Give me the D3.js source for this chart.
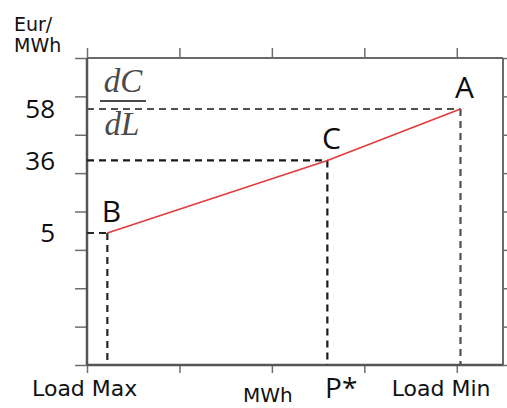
<!DOCTYPE html>
<html>
<head>
<meta charset="utf-8">
<script src="https://cdn.jsdelivr.net/npm/d3@7"></script>
<style>
  html, body { margin: 0; padding: 0; background: #fff; }
  svg { display: block; }
</style>
</head>
<body>
<svg id="chart" width="507" height="408"></svg>
<script>
// Marginal cost curve: operating points along the load axis
const pointNames = ["B", "C", "A"];
const loadPos    = [0.22, 2.6, 4.04];          // position on the MWh axis (tick units)
const costEur    = [5, 36, 58];                // Eur/MWh
const loadLabels = ["Load Max", "P*", "Load Min"];

// Unlabelled tick marks around the frame
const xTickIdx = [0, 1, 2, 3, 4];
const yTickIdx = [0, 1, 2, 3, 4, 5, 6, 7, 8];

const svg = d3.select("#chart");
const L = 87, R = 503, T = 58, B = 365;

const x = d3.scaleLinear().domain([0, 4.5]).range([L, R]);
const y = d3.scaleLinear().domain([5, 58]).range([233, 109]);
const yTick = d3.scaleLinear().domain([0, 8]).range([B, T]);

const tickColor = "#6e6e6e";
function styleAxis(g) {
  g.select(".domain").remove();
  g.selectAll(".tick line").attr("stroke", tickColor).attr("stroke-width", 1.5);
}

// frame ticks
svg.append("g").attr("transform", `translate(${L},0)`)
  .call(d3.axisLeft(yTick).tickValues(yTickIdx).tickSize(12).tickFormat(""))
  .call(styleAxis);
svg.append("g").attr("transform", `translate(${R},0)`)
  .call(d3.axisRight(yTick).tickValues(yTickIdx).tickSize(8).tickFormat(""))
  .call(styleAxis);
svg.append("g").attr("transform", `translate(0,${B})`)
  .call(d3.axisBottom(x).tickValues(xTickIdx).tickSize(8).tickFormat(""))
  .call(styleAxis);
svg.append("g").attr("transform", `translate(0,${T})`)
  .call(d3.axisTop(x).tickValues(xTickIdx).tickSize(10).tickFormat(""))
  .call(styleAxis);

// frame
svg.append("line").attr("x1", L).attr("x2", R).attr("y1", T).attr("y2", T)
  .attr("stroke", "#6a6a6a").attr("stroke-width", 2);
svg.append("line").attr("x1", R).attr("x2", R).attr("y1", T).attr("y2", B)
  .attr("stroke", "#6a6a6a").attr("stroke-width", 2);
svg.append("line").attr("x1", L).attr("x2", R).attr("y1", B).attr("y2", B)
  .attr("stroke", "#555").attr("stroke-width", 2.5);
svg.append("line").attr("x1", L).attr("x2", L).attr("y1", T).attr("y2", B)
  .attr("stroke", "#555").attr("stroke-width", 2.5);

// guide lines from each point to both axes
const pts = pointNames.map((n, i) => ({ name: n, load: loadPos[i], cost: costEur[i], label: loadLabels[i] }));
const guideColor = { A: "#505050", B: "#262626", C: "#1a1a1a" };

const guides = svg.append("g").attr("fill", "none").attr("stroke-width", 2.2);
pts.forEach(p => {
  guides.append("line")
    .attr("x1", L).attr("x2", x(p.load))
    .attr("y1", y(p.cost)).attr("y2", y(p.cost))
    .attr("stroke", guideColor[p.name])
    .attr("stroke-dasharray", "7,5");
  guides.append("line")
    .attr("x1", x(p.load)).attr("x2", x(p.load))
    .attr("y1", y(p.cost)).attr("y2", B)
    .attr("stroke", guideColor[p.name])
    .attr("stroke-dasharray", "7,5");
});

// marginal cost line
svg.append("path")
  .datum(pts)
  .attr("fill", "none")
  .attr("stroke", "#e23b3b")
  .attr("stroke-width", 1.7)
  .attr("d", d3.line().x(d => x(d.load)).y(d => y(d.cost)));

// point letters
svg.append("g").selectAll("text").data(pts).join("text")
  .attr("x", d => x(d.load) + 4)
  .attr("y", d => y(d.cost) - 11)
  .attr("text-anchor", "middle")
  .attr("font-family", "'Open Sans', sans-serif")
  .attr("font-size", 30)
  .attr("fill", "#0d0d0d")
  .text(d => d.name);

// cost values on the vertical axis
svg.append("g").selectAll("text").data(pts).join("text")
  .attr("x", 55)
  .attr("y", d => y(d.cost))
  .attr("dy", "0.36em")
  .attr("text-anchor", "end")
  .attr("font-family", "'Open Sans', sans-serif")
  .attr("font-size", 26)
  .attr("fill", "#0d0d0d")
  .text(d => d3.format("d")(d.cost));

// load labels under the horizontal axis
svg.append("g").selectAll("text").data(pts).join("text")
  .attr("x", d => x(d.load) + 30)
  .attr("y", d => d.name === "C" ? 398 : 396)
  .attr("text-anchor", "end")
  .attr("font-family", d => d.name === "C" ? "'Open Sans', sans-serif" : "'DejaVu Sans', sans-serif")
  .attr("font-size", d => d.name === "C" ? 28 : 22)
  .attr("fill", "#111")
  .text(d => d.label);

// axis titles
svg.append("text")
  .attr("x", x(2) - 4).attr("y", 402)
  .attr("text-anchor", "middle")
  .attr("font-family", "'DejaVu Sans', sans-serif")
  .attr("font-size", 20)
  .attr("fill", "#111")
  .text("MWh");

const yTitle = svg.append("text")
  .attr("font-family", "'DejaVu Sans', sans-serif")
  .attr("font-size", 19)
  .attr("fill", "#111");
yTitle.append("tspan").attr("x", 14).attr("y", 31).text("Eur/");
yTitle.append("tspan").attr("x", 14).attr("y", 52).text("MWh");

// dC/dL fraction
const frac = svg.append("g")
  .attr("font-family", "'Liberation Serif', serif")
  .attr("font-style", "italic")
  .attr("font-size", 33)
  .attr("fill", "#4a4a4a")
  .attr("text-anchor", "middle");
frac.append("text").attr("x", 123).attr("y", 92).text("dC");
frac.append("line").attr("x1", 100).attr("x2", 146).attr("y1", 101).attr("y2", 101)
  .attr("stroke", "#4a4a4a").attr("stroke-width", 2);
frac.append("text").attr("x", 122).attr("y", 135).text("dL");
</script>
</body>
</html>
